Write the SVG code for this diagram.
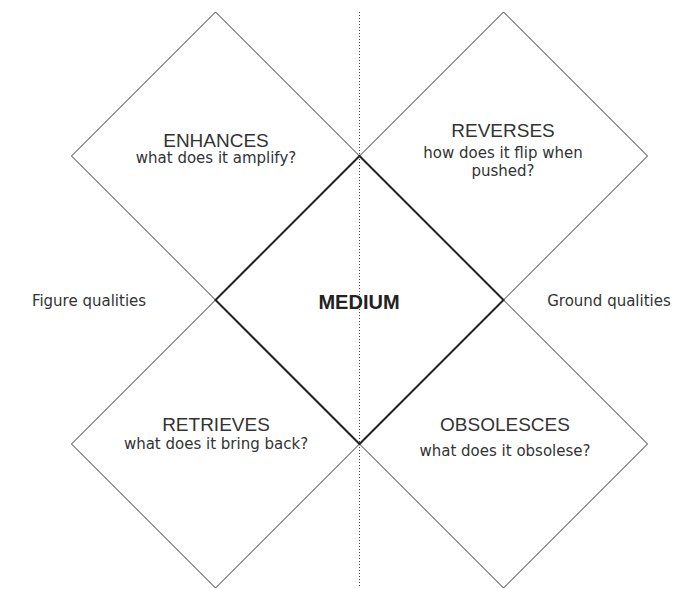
<svg xmlns="http://www.w3.org/2000/svg" width="675" height="589" viewBox="0 0 675 589">
  <style>
    .quad { fill: none; stroke: #333; stroke-width: 1; }
    .core { fill: none; stroke: #222; stroke-width: 2; }
    .axis { stroke: #444; stroke-width: 1; stroke-dasharray: 1 2; }
    text { fill: #333; text-anchor: middle; }
    .title { font-family: "Liberation Sans", Arial, sans-serif; font-size: 19px; }
    .sub, .side { font-family: "DejaVu Sans", Verdana, sans-serif; font-size: 15px; }
    .medium { font-family: "Liberation Sans", Arial, sans-serif; font-size: 20px; font-weight: bold; fill: #222; }
  </style>
  <rect width="675" height="589" fill="#fff"/>

  <g id="connectors">
    <line class="axis" x1="359.5" y1="12" x2="359.5" y2="588"/>
  </g>

  <g id="enhances">
    <polygon class="quad" points="215.5,12 359.5,156 215.5,300 71.5,156"/>
    <text class="title" x="216" y="147">ENHANCES</text>
    <text class="sub" x="216" y="163">what does it amplify?</text>
  </g>

  <g id="reverses">
    <polygon class="quad" points="503.5,12 647.5,156 503.5,300 359.5,156"/>
    <text class="title" x="503" y="137">REVERSES</text>
    <text class="sub" x="503" y="158">how does it flip when</text>
    <text class="sub" x="503" y="176">pushed?</text>
  </g>

  <g id="retrieves">
    <polygon class="quad" points="215.5,300 359.5,444 215.5,588 71.5,444"/>
    <text class="title" x="216" y="431">RETRIEVES</text>
    <text class="sub" x="216" y="449">what does it bring back?</text>
  </g>

  <g id="obsolesces">
    <polygon class="quad" points="503.5,300 647.5,444 503.5,588 359.5,444"/>
    <text class="title" x="505" y="431">OBSOLESCES</text>
    <text class="sub" x="505" y="456">what does it obsolese?</text>
  </g>

  <g id="medium">
    <polygon class="core" points="359.5,156 503.5,300 359.5,444 215.5,300"/>
    <text class="medium" x="359" y="309">MEDIUM</text>
  </g>

  <g id="figure-qualities">
    <text class="side" x="89" y="306">Figure qualities</text>
  </g>

  <g id="ground-qualities">
    <text class="side" x="609" y="306">Ground qualities</text>
  </g>
</svg>
